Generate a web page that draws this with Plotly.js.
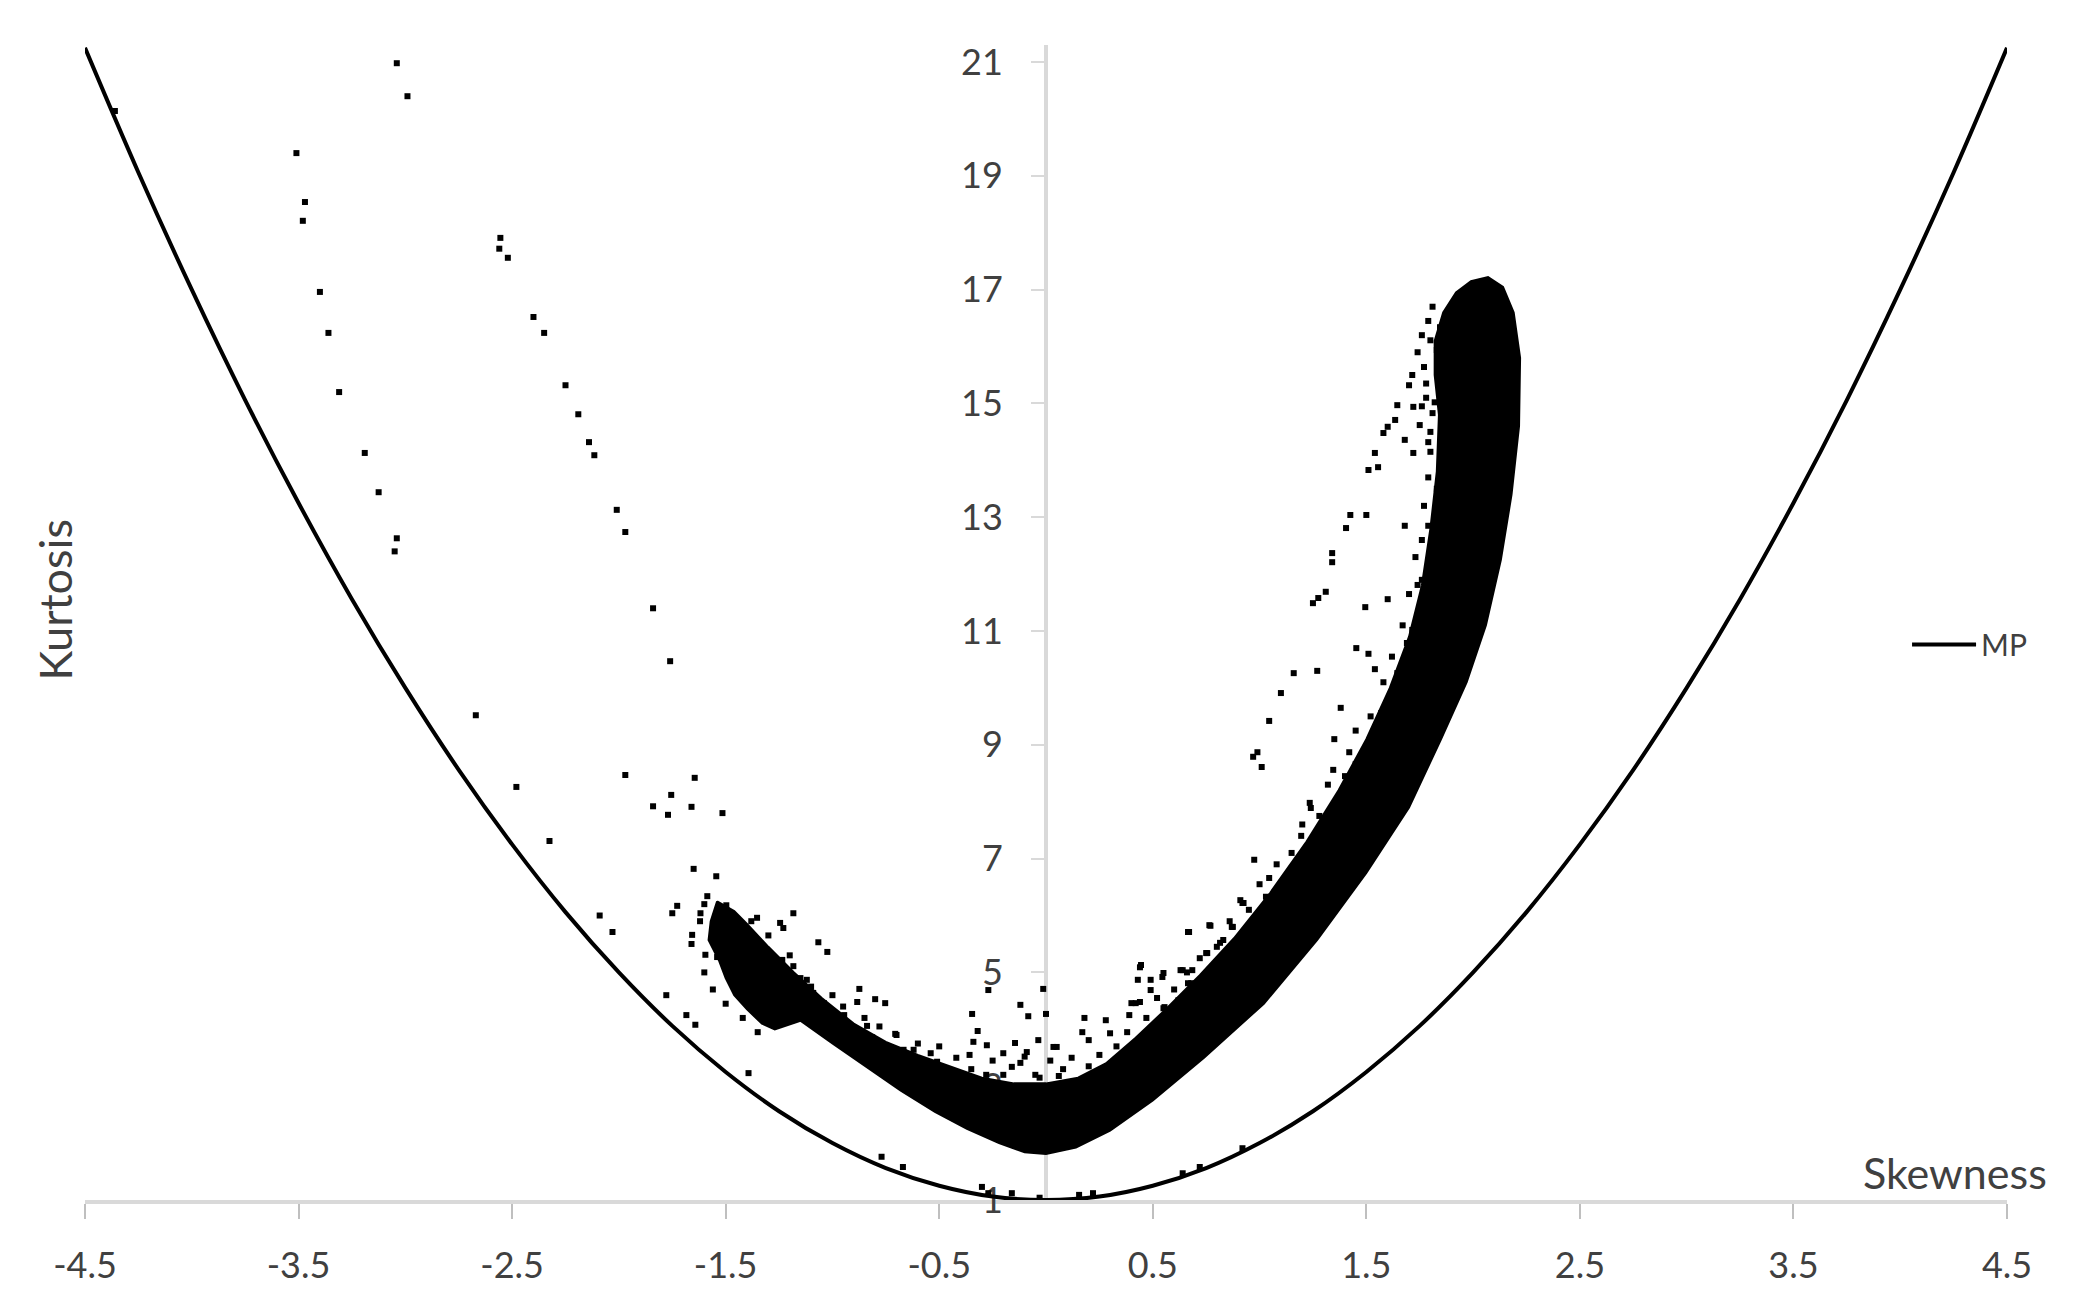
<!DOCTYPE html>
<html>
<head>
<meta charset="utf-8">
<script src="https://cdn.plot.ly/plotly-3.0.1.min.js"></script>
<style>
  html, body { margin: 0; padding: 0; background: #fff; }
  #chart { width: 2073px; height: 1301px; }
</style>
</head>
<body>
<div id="chart"></div>
<script>
// MP bound
var mpSkew = [-4.5, -4.25, -4, -3.75, -3.5, -3.25, -3, -2.75, -2.5, -2.25, -2, -1.75, -1.5, -1.25, -1, -0.75, -0.5, -0.25, 0,
              0.25, 0.5, 0.75, 1, 1.25, 1.5, 1.75, 2, 2.25, 2.5, 2.75, 3, 3.25, 3.5, 3.75, 4, 4.25, 4.5];
var mpKurt = [21.25, 19.06, 17, 15.06, 13.25, 11.56, 10, 8.56, 7.25, 6.06, 5, 4.06, 3.25, 2.56, 2, 1.56, 1.25, 1.06, 1,
              1.06, 1.25, 1.56, 2, 2.56, 3.25, 4.06, 5, 6.06, 7.25, 8.56, 10, 11.56, 13.25, 15.06, 17, 19.06, 21.25];

// outline of the solid black cloud of samples
var bandSkew = [-1.54, -1.46, -1.40, -1.30, -1.18, -1.05, -0.90, -0.75, -0.60, -0.45, -0.30, -0.15, 0.0, 0.15, 0.28,
                0.42, 0.56, 0.72, 0.88, 1.05, 1.22, 1.37, 1.50, 1.61, 1.70, 1.76, 1.80, 1.83, 1.84, 1.82, 1.82,
                1.86, 1.92, 1.99, 2.07, 2.14, 2.19, 2.22, 2.215, 2.18, 2.13, 2.06, 1.97, 1.85, 1.70, 1.50, 1.27,
                1.02, 0.74, 0.50, 0.30, 0.14, 0.0, -0.10, -0.22, -0.37, -0.52, -0.68, -0.84, -1.0, -1.15,
                -1.27, -1.33, -1.40, -1.46, -1.50, -1.53, -1.58, -1.57, -1.54];
var bandKurt = [6.25, 6.08, 5.85, 5.45, 5.0, 4.55, 4.10, 3.78, 3.55, 3.35, 3.15, 3.05, 3.05, 3.15, 3.40,
                3.85, 4.35, 4.95, 5.6, 6.4, 7.3, 8.2, 9.1, 10.0, 10.9, 11.8, 12.8, 13.8, 14.8, 15.5, 16.1,
                16.6, 16.95, 17.15, 17.22, 17.05, 16.6, 15.8, 14.6, 13.4, 12.25, 11.1, 10.1, 9.1, 7.9, 6.75, 5.57,
                4.45, 3.5, 2.75, 2.22, 1.92, 1.81, 1.84, 2.0, 2.25, 2.55, 2.92, 3.33, 3.75, 4.15,
                4.0, 4.1, 4.35, 4.6, 4.9, 5.2, 5.57, 5.9, 6.25];

// individual samples outside the solid cloud
var ptSkew = [
  -4.36, -3.04, -2.99, -3.51, -3.47, -3.48, -2.555, -2.56, -2.52, -3.40, -3.36, -3.31, -2.40, -2.35, -2.25, -2.19, -2.14,
  -3.19, -3.125, -3.04, -3.05, -2.115, -2.01, -1.97, -1.84, -1.76, -2.67, -2.48, -2.325, -1.97, -1.645, -1.755, -1.84,
  -1.77, -1.66, -1.515, -1.65, -1.544, -2.09, -2.03,
  -1.586, -1.727, -1.75, -1.618, -1.497, -1.657, -1.595, -1.54, -1.353, -1.245, -1.23, -1.183, -1.066, -1.024, -1.235,
  -1.183, -0.874, -0.884, -0.80, -0.753, -0.945, -0.838, -0.814, -0.706, -1.778, -1.684, -1.642, -1.393,
  -1.15, -1.12, -1.09, -1.04, -0.667,
  -1.6, -1.62, -1.66, -1.6, -1.56, -1.5, -1.42, -1.35,
  -1.0, -0.95, -1.1, -1.2, -1.3, -1.38, -0.85, -0.78,
  -0.27, -0.013, -0.12, -0.083, 0.0, -0.346, -0.32, -0.34, -0.277, -0.358, -0.036, -0.145, -0.09, -0.2, -0.12, 0.035,
  -0.54, -0.62, -0.51, -0.10, -0.16,
  -0.05, 0.08, -0.2, -0.35, 0.12, -0.25, -0.42, -0.6, -0.7, 0.02, -0.5, -0.03, 0.06, -0.28,
  -0.77, -0.67, -0.30, -0.27, -0.16, -0.03, 0.155, 0.22, 0.64, 0.72, 0.92,
  0.18, 0.17, 0.20, 0.28, 0.30, 0.42, 0.44, 0.49, 0.545, 0.64, 0.68, 0.67, 0.765, 0.87, 0.755, 0.815, 0.92, 0.39, 0.555,
  0.62, 0.535, 0.05,
  0.20, 0.25, 0.33, 0.38, 0.47, 0.52, 0.60, 0.66, 0.72, 0.80, 0.86, 0.95, 1.0, 1.08, 1.15, 1.2, 1.28, 1.32, 1.40, 1.45,
  1.52, 1.58, 1.62, 1.67, 1.70, 1.73, 1.76, 1.77, 1.79, 1.80, 1.78, 1.74, 1.76,
  1.453, 1.51, 1.54, 1.27, 1.16, 1.10, 1.38, 1.57, 1.045, 1.35, 1.53, 1.42, 1.45, 1.345, 0.99, 0.97, 1.01, 1.235, 1.24,
  1.195, 0.975, 1.045, 0.91, 0.925, 1.03, 1.13, 0.665, 0.77, 0.875, 0.83, 0.75, 0.445, 0.55, 0.43, 0.63, 0.685, 0.49,
  0.665, 0.74, 0.40, 0.44, 0.55, 0.62,
  1.85, 1.77, 1.715, 1.70, 1.645, 1.72, 1.82, 1.81, 1.635, 1.60, 1.58, 1.75, 1.88, 1.68, 1.79, 1.89, 1.72, 1.80, 1.87,
  1.54, 1.51, 1.555, 1.83, 1.90, 1.855, 1.89, 1.425, 1.50, 1.405, 1.68, 1.79, 1.86, 1.34, 1.34, 1.845, 1.76, 1.74, 1.31,
  1.275, 1.25, 1.60, 1.495, 1.83, 1.785, 1.75, 1.715, 1.69, 1.645, 1.645,
  1.94, 2.02, 1.955, 2.05, 1.94, 2.02, 1.925, 1.98, 1.955, 2.02, 1.955, 1.98, 1.88, 1.83, 1.89, 1.955, 1.845, 1.80,
  1.78, 1.76, 1.79, 1.81
];
var ptKurt = [
  20.14, 20.98, 20.40, 19.40, 18.54, 18.21, 17.91, 17.72, 17.56, 16.96, 16.24, 15.20, 16.52, 16.24, 15.32, 14.81, 14.32,
  14.13, 13.44, 12.63, 12.40, 14.09, 13.13, 12.74, 11.40, 10.47, 9.52, 8.26, 7.31, 8.47, 8.42, 8.12, 7.92,
  7.77, 7.91, 7.80, 6.82, 6.69, 6.0, 5.71,
  6.34, 6.17, 6.04, 6.04, 6.18, 5.66, 5.31, 5.27, 5.96, 5.87, 5.78, 6.04, 5.53, 5.36, 5.22,
  5.11, 4.71, 4.48, 4.53, 4.46, 4.25, 4.06, 3.86, 3.92, 4.60, 4.25, 4.08, 3.23,
  4.90, 4.87, 4.64, 4.46, 3.64,
  6.2, 5.9, 5.5, 5.0, 4.7, 4.45, 4.2, 3.95,
  4.6, 4.4, 4.75, 5.3, 5.65, 5.9, 4.2, 4.05,
  4.69, 4.71, 4.43, 4.23, 4.27, 4.27, 3.97, 3.78, 3.72, 3.55, 3.81, 3.76, 3.60, 3.58, 3.41, 3.69,
  3.58, 3.64, 3.43, 3.52, 3.34,
  3.2, 3.3, 3.2, 3.3, 3.5, 3.45, 3.5, 3.75, 3.9, 3.45, 3.7, 3.15, 3.18, 3.2,
  1.76, 1.58, 1.23, 1.12, 1.12, 1.04, 1.09, 1.12, 1.47, 1.58, 1.91,
  4.2, 3.95, 3.81, 4.16, 3.93, 4.46, 5.09, 4.87, 4.92, 5.04, 4.81, 5.71, 5.83, 5.8, 5.34, 5.52, 6.22, 4.25, 4.39,
  4.51, 4.11, 3.69,
  3.35, 3.55, 3.7, 3.95, 4.2, 4.55, 4.7, 5.0, 5.25, 5.45, 5.9, 6.1, 6.55, 6.9, 7.1, 7.6, 7.75, 8.3, 8.45, 9.25,
  9.5, 10.1, 10.55, 11.1, 11.65, 12.3, 12.6, 13.2, 13.7, 14.5, 15.1, 15.9, 16.2,
  10.70, 10.60, 10.33, 10.30, 10.26, 9.91, 9.65, 9.56, 9.42, 9.10, 9.03, 8.87, 8.66, 8.56, 8.87, 8.79, 8.61, 7.98, 7.89,
  7.40, 6.98, 6.66, 6.27, 6.22, 6.33, 6.47, 5.71, 5.82, 5.80, 5.57, 5.34, 5.13, 4.99, 4.87, 5.04, 5.04, 4.69,
  4.81, 4.87, 4.46, 4.48, 4.37, 4.46,
  15.64, 15.64, 15.50, 15.32, 14.97, 14.94, 15.02, 14.83, 14.71, 14.59, 14.48, 14.62, 14.66, 14.36, 14.32, 14.32, 14.13, 14.15, 14.06,
  14.13, 13.83, 13.88, 13.50, 13.48, 13.27, 13.07, 13.04, 13.04, 12.81, 12.85, 12.85, 12.48, 12.37, 12.21, 12.07, 11.90, 11.81, 11.69,
  11.58, 11.49, 11.56, 11.42, 11.69, 11.54, 11.32, 11.02, 10.79, 10.26, 9.79,
  16.47, 16.11, 15.89, 15.59, 15.59, 15.18, 15.18, 14.76, 14.48, 14.23, 13.88, 13.71, 16.06, 15.94, 16.17, 16.34, 16.34, 16.11,
  15.35, 14.95, 16.45, 16.7
];

var xTickVals = [-4.5, -3.5, -2.5, -1.5, -0.5, 0.5, 1.5, 2.5, 3.5, 4.5];
var xTickText = ['-4.5', '-3.5', '-2.5', '-1.5', '-0.5', '0.5', '1.5', '2.5', '3.5', '4.5'];
var yTickVals = [1, 3, 5, 7, 9, 11, 13, 15, 17, 19, 21];

var band = {
    x: bandSkew,
    y: bandKurt,
    mode: 'lines',
    fill: 'toself',
    fillcolor: '#000000',
    line: {color: '#000000', width: 2},
    hoverinfo: 'skip',
    showlegend: false
};

var samples = {
    x: ptSkew,
    y: ptKurt,
    mode: 'markers',
    marker: {symbol: 'square', size: 6, color: '#000000', line: {width: 0}},
    showlegend: false
};

var mp = {
    x: mpSkew,
    y: mpKurt,
    mode: 'lines',
    line: {color: '#000000', width: 4, shape: 'spline'},
    name: 'MP'
};

var layout = {
    width: 2073,
    height: 1301,
    margin: {l: 85, r: 66, t: 45, b: 101},
    paper_bgcolor: '#ffffff',
    plot_bgcolor: '#ffffff',
    font: {family: 'Lato, "Open Sans", sans-serif', color: '#404040'},
    showlegend: true,
    legend: {
        x: 0.948, y: 0.481, xanchor: 'left', yanchor: 'middle',
        itemwidth: 64,
        font: {size: 30, color: '#404040'},
        bgcolor: 'rgba(0,0,0,0)'
    },
    xaxis: {
        range: [-4.5, 4.5],
        tickvals: xTickVals,
        ticktext: xTickText,
        showgrid: false,
        zeroline: false,
        showline: true,
        linecolor: '#d9d9d9',
        linewidth: 4,
        ticks: 'outside',
        ticklen: 15,
        tickwidth: 2,
        tickcolor: '#bfbfbf',
        tickfont: {size: 36, color: '#404040'},
        ticklabelstandoff: 16,
        layer: 'below traces'
    },
    yaxis: {
        range: [1, 21.3],
        tickvals: yTickVals,
        anchor: 'free',
        position: 0.5,
        showgrid: false,
        zeroline: false,
        showline: true,
        linecolor: '#d9d9d9',
        linewidth: 4,
        ticks: 'outside',
        ticklen: 13,
        tickwidth: 2,
        tickcolor: '#d9d9d9',
        tickfont: {size: 36, color: '#404040'},
        ticklabelstandoff: 21,
        layer: 'below traces'
    },
    annotations: [
        {
            text: 'Skewness', xref: 'paper', yref: 'paper',
            x: 1.022, y: 0.024, xanchor: 'right', yanchor: 'middle',
            showarrow: false, font: {size: 43, color: '#404040'}
        },
        {
            text: 'Kurtosis', xref: 'paper', yref: 'paper',
            x: -0.0156, y: 0.519, xanchor: 'center', yanchor: 'middle',
            textangle: -90, showarrow: false, font: {size: 45, color: '#404040'}
        }
    ]
};

Plotly.newPlot('chart', [band, samples, mp], layout, {displayModeBar: false});
</script>
</body>
</html>
